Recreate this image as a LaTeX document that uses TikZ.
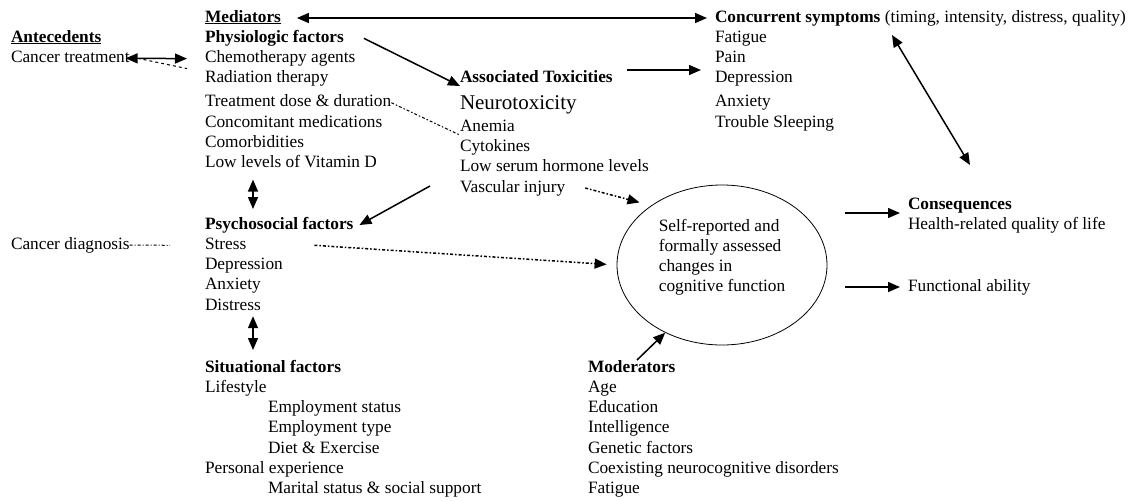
\documentclass[tikz,border=0pt]{standalone}
\usepackage{fontspec}
\setmainfont{Liberation Serif}
\usetikzlibrary{arrows.meta,positioning,shapes}
\tikzset{
  item/.style={anchor=west, inner sep=0pt, outer sep=0pt, text height=12pt, text depth=4pt, font=\fontsize{17.3}{20}\selectfont},
  head/.style={item, font=\fontsize{17.3}{20}\selectfont\bfseries},
  under/.style={below=4.3pt of #1.south west, anchor=north west},
  thinline/.style={line width=1pt},
}
\begin{document}
\begin{tikzpicture}[x=1pt, y=-1pt, >={Triangle[length=12pt,width=10pt]}, line width=1.5pt]
\useasboundingbox (0,0) rectangle (1144,501);

        \node[head] (ante) at (11,38) {\underline{Antecedents}};
        \node[item, under=ante] (treat) {Cancer treatment};
        \node[item] (diag) at (11,245) {Cancer diagnosis};

        \node[head] (med) at (205,18) {\underline{Mediators}};
        \node[head, under=med] (phys) {Physiologic factors};
        \node[item, under=phys] (chemo) {Chemotherapy agents};
        \node[item, under=chemo] (rad) {Radiation therapy};
        \node[item, under=rad, yshift=-3.5pt] (dose) {Treatment dose \& duration};
        \node[item, under=dose] (concom) {Concomitant medications};
        \node[item, under=concom] (comorb) {Comorbidities};
        \node[item, under=comorb] (vitd) {Low levels of Vitamin D};

        \node[head] (psycho) at (205,225) {Psychosocial factors};
        \node[item, under=psycho] (stress) {Stress};
        \node[item, under=stress] (pdepr) {Depression};
        \node[item, under=pdepr] (panx) {Anxiety};
        \node[item, under=panx] (distr) {Distress};

        \node[head] (situ) at (205,368) {Situational factors};
        \node[item, under=situ] (life) {Lifestyle};
        \node[item, under=life, xshift=63pt] (emps) {Employment status};
        \node[item, under=emps] (empt) {Employment type};
        \node[item, under=empt] (diet) {Diet \& Exercise};
        \node[item, under=diet, xshift=-63pt] (pers) {Personal experience};
        \node[item, under=pers, xshift=63pt] (marit) {Marital status \& social support};

        \node[head] (tox) at (460,78) {Associated Toxicities};
        \node[item, under=tox, yshift=-4.5pt, font=\fontsize{21}{24}\selectfont, text height=15pt, text depth=5pt] (neuro) {Neurotoxicity};
        \node[item, under=neuro] (anemia) {Anemia};
        \node[item, under=anemia] (cyto) {Cytokines};
        \node[item, under=cyto] (serum) {Low serum hormone levels};
        \node[item, under=serum] (vasc) {Vascular injury};

        \node[item] (conc) at (715,18) {\textbf{Concurrent symptoms} (timing, intensity, distress, quality)};
        \node[item, under=conc] (cfat) {Fatigue};
        \node[item, under=cfat] (cpain) {Pain};
        \node[item, under=cpain] (cdepr) {Depression};
        \node[item, under=cdepr, yshift=-3.5pt] (canx) {Anxiety};
        \node[item, under=canx] (ctrou) {Trouble Sleeping};

        \node[draw, ellipse, line width=0.8pt, minimum width=210pt, minimum height=160pt, align=left, font=\fontsize{17.3}{20}\selectfont] (cog) at (722,265) {Self-reported and\\formally assessed\\changes in\\cognitive function\\ \mbox{}};

        \node[head] (cons) at (908,205) {Consequences};
        \node[item, under=cons] (hrql) {Health-related quality of life};
        \node[item] (func) at (908,287) {Functional ability};

        \node[head] (mod) at (588,368) {Moderators};
        \node[item, under=mod] (age) {Age};
        \node[item, under=age] (edu) {Education};
        \node[item, under=edu] (intel) {Intelligence};
        \node[item, under=intel] (gene) {Genetic factors};
        \node[item, under=gene] (coex) {Coexisting neurocognitive disorders};
        \node[item, under=coex] (mfat) {Fatigue};

        \draw[<->, shorten <=16pt, shorten >=8pt] (med.east) -- (conc.west);
        \draw[->] ([xshift=20pt]phys.east) -- (tox.south west);
        \draw[->] ([xshift=14pt]tox.north east) -- ([xshift=-14pt]tox.north east -| cdepr.west);
        \draw[<->] ([xshift=-4pt]treat.east) -- ([xshift=-18pt]chemo.west);
        \draw[dashed, thinline] ([xshift=8pt]treat.east) -- ([xshift=-18pt,yshift=-10pt]chemo.west);
        \draw[dashdotted, thinline] (dose.east) -- (anemia.south west);
        \draw[->] ([xshift=-30pt,yshift=-6pt]vasc.north west) -- ([xshift=6pt]psycho.east);
        \draw[->, dashdotted, shorten >=12pt] ([xshift=20pt]vasc.east) -- (cog.140);
        \draw[->, dashdotted, shorten >=10pt] ([xshift=68pt]stress.east) -- (cog.west);
        \draw[thinline, dash pattern=on 3pt off 2pt on 1pt off 2pt] (diag.east) -- ([xshift=-35pt]stress.west);
        \draw[<->] ([xshift=48pt,yshift=-8pt]vitd.south west) -- ([xshift=48pt,yshift=8pt]psycho.north west);
        \draw[<->] ([xshift=48pt,yshift=-2pt]distr.south west) -- ([xshift=48pt,yshift=10pt]situ.north west);
        \draw[<->] ([xshift=177pt,yshift=-9pt]conc.south west) -- ([xshift=62pt,yshift=32pt]cons.north west);
        \draw[->, shorten >=8pt] ([xshift=18pt]cog.east |- cons.south) -- (cons.south west);
        \draw[->, shorten >=8pt] ([xshift=18pt]cog.east |- func.west) -- (func.west);
        \draw[->] ([xshift=49pt]mod.north west) -- (cog.230);

\end{tikzpicture}
\end{document}
